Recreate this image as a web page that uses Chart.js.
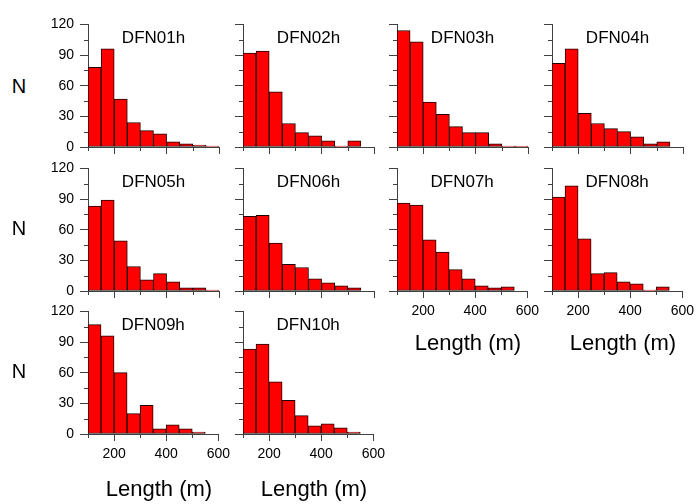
<!DOCTYPE html>
<html>
<head>
<meta charset="utf-8">
<script src="https://cdn.jsdelivr.net/npm/chart.js@4"></script>
<style>
  body { margin: 0; background: #fff; width: 697px; height: 504px; position: relative; overflow: hidden;
         font-family: Arial, 'Liberation Sans', sans-serif; }
  canvas { position: absolute; }
  .lbl { position: absolute; color: #000; white-space: nowrap; transform: translate(-50%, -50%); }
</style>
</head>
<body>
<script>
// bins are 50 m wide, from 100 to 600 m
const binCenters = [125, 175, 225, 275, 325, 375, 425, 475, 525, 575];
const xTicks = [200, 400, 600];
const xMinor = [100, 300, 500];
const yMinor = [15, 45, 75, 105];

const names = ['DFN01h', 'DFN02h', 'DFN03h', 'DFN04h', 'DFN05h', 'DFN06h', 'DFN07h', 'DFN08h', 'DFN09h', 'DFN10h'];
const dfn01 = [78, 96, 47, 24, 16, 13, 5, 3, 2, 1];
const dfn02 = [92, 94, 54, 23, 14, 11, 6, 1, 6, 0];
const dfn03 = [114, 103, 44, 32, 20, 14, 14, 3, 1, 1];
const dfn04 = [82, 96, 33, 23, 18, 15, 10, 3, 5, 0];
const dfn05 = [83, 89, 49, 24, 11, 17, 9, 3, 3, 1];
const dfn06 = [73, 74, 47, 26, 23, 12, 8, 5, 3, 0];
const dfn07 = [86, 84, 50, 38, 21, 12, 5, 3, 4, 0];
const dfn08 = [92, 103, 51, 17, 18, 9, 7, 1, 4, 0];
const dfn09 = [107, 96, 60, 20, 28, 5, 9, 5, 2, 0];
const dfn10 = [83, 88, 51, 33, 18, 8, 10, 6, 2, 0];
const series = [dfn01, dfn02, dfn03, dfn04, dfn05, dfn06, dfn07, dfn08, dfn09, dfn10];

const font = "Arial, 'Liberation Sans', sans-serif";
const axisColor = '#404040';

// plot area positions in the page
const colLeft = [88, 243, 397, 552];
const rowTop = [20, 164, 307];
const plotW = 131, plotH = 127;
const padL = 50, padT = 10, padR = 16, axisH = 32;

const panelExtras = {
  id: 'panelTitle',
  afterDraw(chart, args, opts) {
    const { ctx, chartArea: a, scales: { x, y } } = chart;
    ctx.save();
    ctx.strokeStyle = axisColor;
    ctx.lineWidth = 1;
    ctx.beginPath();
    xMinor.forEach(v => {
      const px = Math.round(x.getPixelForValue(v)) + 0.5;
      ctx.moveTo(px, a.bottom);
      ctx.lineTo(px, a.bottom + 4);
    });
    yMinor.forEach(v => {
      const py = Math.round(y.getPixelForValue(v)) + 0.5;
      ctx.moveTo(a.left - 4, py);
      ctx.lineTo(a.left, py);
    });
    ctx.stroke();
    ctx.fillStyle = '#000';
    ctx.font = '17px ' + font;
    ctx.textAlign = 'center';
    ctx.textBaseline = 'middle';
    ctx.fillText(opts.text, (a.left + a.right) / 2, a.top + 14);
    ctx.restore();
  }
};

function addLabel(text, x, y, size) {
  const d = document.createElement('div');
  d.className = 'lbl';
  d.textContent = text;
  d.style.left = x + 'px';
  d.style.top = y + 'px';
  d.style.fontSize = size + 'px';
  document.body.appendChild(d);
}

series.forEach((vals, i) => {
  const row = Math.floor(i / 4), col = i % 4;
  const showY = col == 0;
  const showX = i >= 6;

  const canvas = document.createElement('canvas');
  canvas.width = padL + plotW + padR;
  canvas.height = padT + plotH + axisH;
  canvas.style.left = (colLeft[col] - padL) + 'px';
  canvas.style.top = (rowTop[row] - padT) + 'px';
  document.body.appendChild(canvas);

  new Chart(canvas, {
    type: 'bar',
    data: {
      datasets: [{
        data: binCenters.map((c, k) => ({ x: c, y: vals[k] })),
        backgroundColor: '#ff0000',
        borderColor: '#200000',
        borderWidth: 1,
        borderSkipped: false,
        barPercentage: 1,
        categoryPercentage: 1
      }]
    },
    options: {
      responsive: false,
      animation: false,
      layout: { padding: { left: 0, top: padT, right: padR, bottom: 0 } },
      plugins: {
        legend: { display: false },
        tooltip: { enabled: false },
        panelTitle: { text: names[i] }
      },
      scales: {
        x: {
          type: 'linear',
          min: 100,
          max: 600,
          offset: false,
          afterBuildTicks: s => { s.ticks = xTicks.map(v => ({ value: v })); },
          afterFit: s => { s.height = axisH; },
          ticks: {
            callback: v => showX ? v : '',
            maxRotation: 0,
            autoSkip: false,
            color: '#000',
            padding: 5,
            font: { size: 14, family: font }
          },
          grid: { drawOnChartArea: false, offset: false, tickLength: 7, tickColor: axisColor },
          border: { color: axisColor }
        },
        y: {
          min: 0,
          max: 120,
          afterFit: s => { s.width = padL; },
          ticks: {
            stepSize: 30,
            callback: v => showY ? v : '',
            color: '#000',
            padding: 6,
            font: { size: 14, family: font }
          },
          grid: { drawOnChartArea: false, tickLength: 8, tickColor: axisColor },
          border: { color: axisColor }
        }
      }
    },
    plugins: [panelExtras]
  });
});

addLabel('N', 19, 86, 20);
addLabel('N', 19, 228, 20);
addLabel('N', 19, 371, 20);
addLabel('Length (m)', 159, 489, 22);
addLabel('Length (m)', 314, 489, 22);
addLabel('Length (m)', 468, 343, 22);
addLabel('Length (m)', 623, 343, 22);
</script>
</body>
</html>
